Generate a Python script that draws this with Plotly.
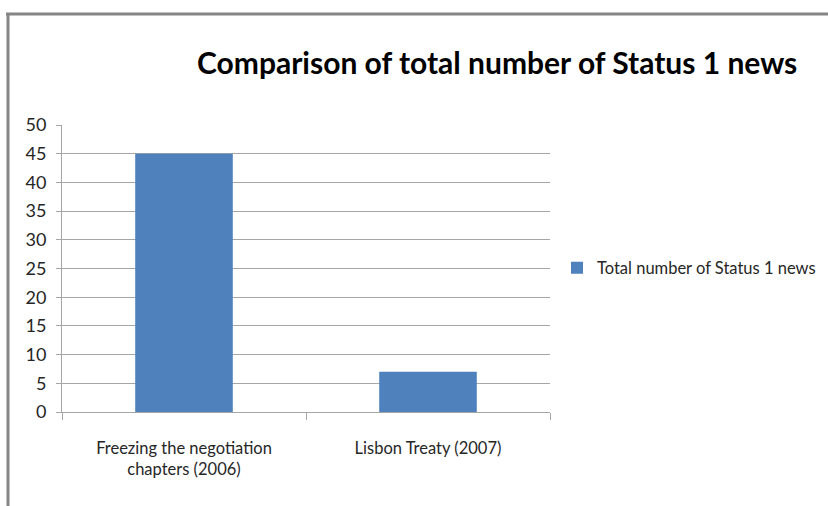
import plotly.graph_objects as go

# Data
categories = ["Freezing the negotiation<br>chapters (2006)", "Lisbon Treaty (2007)"]
values = [45, 7]
series_name = "Total number of Status 1 news"
title_text = "Comparison of total number of Status 1 news"
y_ticks = [0, 5, 10, 15, 20, 25, 30, 35, 40, 45, 50]

W, H = 828, 506
L, R, T, B = 62, 550, 125, 412  # plot area in pixels

FONT = "Lato, 'Open Sans', sans-serif"
TEXT_COL = "#262626"

fig = go.Figure()
fig.add_trace(go.Bar(
    x=categories,
    y=values,
    name=series_name,
    marker=dict(color="#4F81BD", line=dict(width=0)),
    width=0.4,
    showlegend=True,
))

grid_col = "#A6A6A6"
fig.update_layout(
    width=W, height=H,
    margin=dict(l=L, r=W - R, t=T, b=H - B, pad=0, autoexpand=False),
    paper_bgcolor="white",
    plot_bgcolor="white",
    font=dict(family=FONT, color=TEXT_COL, size=16),
    showlegend=True,
    legend=dict(
        x=(557 - L) / (R - L), xanchor="left",
        y=(B - 268) / (B - T), yanchor="middle",
        font=dict(size=16.5, color=TEXT_COL),
        bgcolor="rgba(0,0,0,0)",
        itemwidth=30,
        traceorder="normal",
    ),
    bargap=0.6,
)

fig.update_xaxes(
    type="category",
    tickson="boundaries",
    ticks="outside", ticklen=7, tickcolor=grid_col, tickwidth=1,
    ticklabelstandoff=21,
    showline=True, linecolor=grid_col, linewidth=1,
    showgrid=False,
    tickfont=dict(size=16.5, color=TEXT_COL),
    fixedrange=True,
)
fig.update_yaxes(
    range=[0, 50],
    tickvals=y_ticks,
    ticks="outside", ticklen=5, tickcolor=grid_col, tickwidth=1,
    ticklabelstandoff=6,
    showline=True, linecolor=grid_col, linewidth=1,
    showgrid=True, gridcolor=grid_col, gridwidth=1,
    zeroline=False,
    tickfont=dict(size=18, color=TEXT_COL),
    fixedrange=True,
)

def px_x(px):
    return (px - L) / (R - L)

def px_y(py):
    return (B - py) / (B - T)

# Title
fig.add_annotation(
    text="<b>" + title_text + "</b>",
    xref="paper", yref="paper",
    x=px_x(497), y=px_y(62),
    xanchor="center", yanchor="middle",
    showarrow=False,
    font=dict(size=30, color="#000000", family=FONT),
)

# Outer frame (top and left edges)
frame_col = "#858585"
fig.add_shape(type="line", xref="paper", yref="paper",
              x0=px_x(6), x1=px_x(W + 2), y0=px_y(14), y1=px_y(14),
              line=dict(color=frame_col, width=3))
fig.add_shape(type="line", xref="paper", yref="paper",
              x0=px_x(8), x1=px_x(8), y0=px_y(13), y1=px_y(H + 2),
              line=dict(color=frame_col, width=3))

fig.write_html("out.html")
